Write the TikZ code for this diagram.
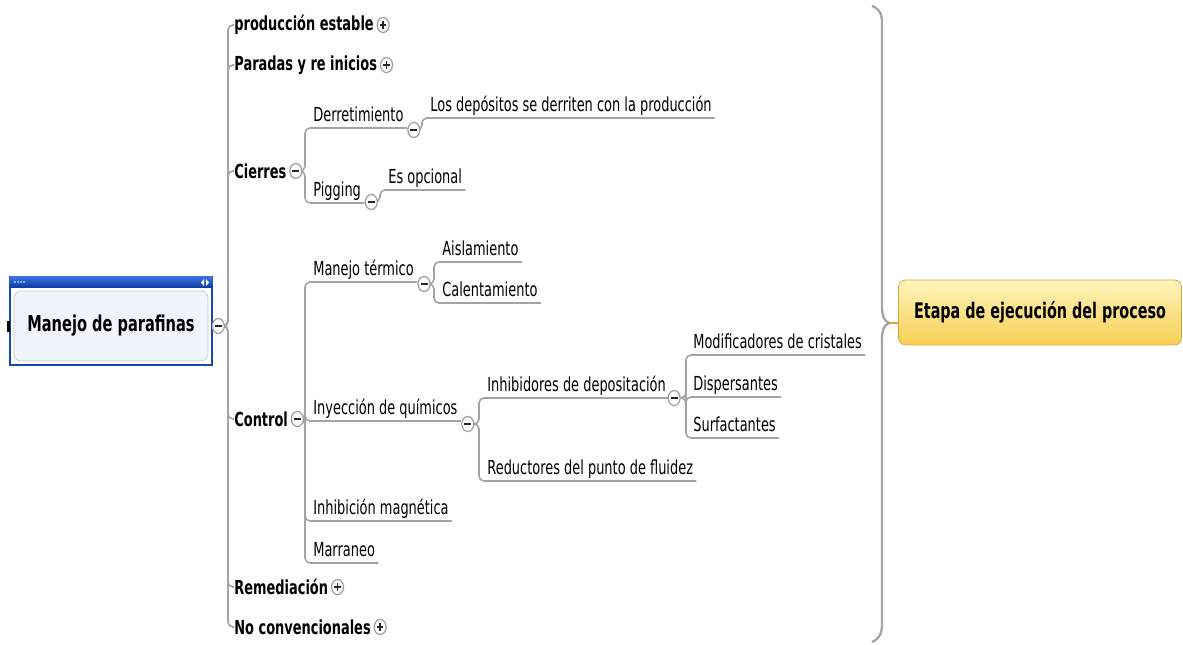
\documentclass[tikz,border=0pt]{standalone}
\usepackage{fontspec}
\setmainfont{DejaVu Sans}[FakeStretch=0.67]
\usetikzlibrary{shapes.geometric, positioning, calc, backgrounds}

\definecolor{branchgray}{HTML}{A4A4A4}
\definecolor{rootblue}{HTML}{1448B8}
\definecolor{barlight}{HTML}{3C72E4}
\definecolor{bardark}{HTML}{0B3AA2}
\definecolor{innerfill}{HTML}{F0F4FC}
\definecolor{innerline}{HTML}{C4C8D0}
\definecolor{goldtop}{HTML}{FFF4BE}
\definecolor{goldbottom}{HTML}{F6D052}
\definecolor{goldline}{HTML}{D2A53A}

\tikzset{
  branch/.style={draw=branchgray, line width=0.9pt, rounded corners=0.1cm},
  btn/.style={ellipse, draw=gray!75, fill=white, line width=0.7pt, minimum width=0.24cm, minimum height=0.3cm, inner sep=0},
  minusbtn/.style={btn, path picture={\draw[line width=1.6pt, black!85] ([xshift=-0.07cm]path picture bounding box.center) -- ([xshift=0.07cm]path picture bounding box.center);}},
  plusbtn/.style={btn, path picture={
    \draw[line width=0.9pt, black!85] ([xshift=-0.065cm]path picture bounding box.center) -- ([xshift=0.065cm]path picture bounding box.center);
    \draw[line width=0.9pt, black!85] ([yshift=-0.075cm]path picture bounding box.center) -- ([yshift=0.075cm]path picture bounding box.center);}},
  topic/.style={anchor=south west, inner xsep=0, inner ysep=0.03cm, text depth=0.25em, text height=0.75em, font=\fontsize{11}{13}\selectfont},
  maintopic/.style={anchor=west, inner sep=0, font=\fontsize{11}{13}\selectfont\bfseries},
  rootbox/.style={rectangle, rounded corners=0.14cm, draw=innerline, fill=innerfill, minimum width=3.88cm, minimum height=1.4cm, font=\fontsize{12.4}{15}\selectfont\bfseries},
  etapabox/.style={rectangle, rounded corners=0.14cm, draw=goldline, top color=goldtop, bottom color=goldbottom, minimum width=5.66cm, minimum height=1.3cm, font=\fontsize{12.2}{14}\selectfont\bfseries}
}

\begin{document}
\begin{tikzpicture}[x=0.02cm, y=-0.02cm]
\useasboundingbox (0,0) rectangle (1183,645);

% central topic
\node[rootbox] (root) at (111,326) {Manejo de parafinas};
\begin{scope}[on background layer]
  \filldraw[draw=rootblue, line width=1pt, fill=white] ([shift={(-0.08cm,0.28cm)}]root.north west) rectangle ([shift={(0.08cm,-0.08cm)}]root.south east);
  \shade[top color=barlight, bottom color=bardark] ([shift={(-0.08cm,0.28cm)}]root.north west) rectangle ([shift={(0.08cm,0.06cm)}]root.north east);
\end{scope}
\foreach \i in {0,...,3}
  \fill[white] (15+3*\i,282) circle (0.8);
\fill[white] (204,279) -- (201,282.5) -- (204,286) -- cycle;
\fill[white] (206,279) -- (209,282.5) -- (206,286) -- cycle;
\fill (7,321) rectangle (10,332);
\node[minusbtn] (rootbtn) at ([xshift=0.2cm]root.east) {};

% main topics
\node[maintopic] (prod) at (234,25) {producción estable};
\node[maintopic] (parad) at (234,65) {Paradas y re inicios};
\node[maintopic] (cierres) at (234,171) {Cierres};
\node[maintopic] (control) at (234,419) {Control};
\node[maintopic] (remed) at (234,587) {Remediación};
\node[maintopic] (noconv) at (234,627) {No convencionales};

% Cierres
\node[topic] (derr) at (313,128) {Derretimiento};
\node[topic] (pigg) at (313,203) {Pigging};
\node[topic] (depos) at (430,118) {Los depósitos se derriten con la producción};
\node[topic] (opc) at (388,190) {Es opcional};

% Control
\node[topic] (mterm) at (313,282) {Manejo térmico};
\node[topic] (iny) at (313,421) {Inyección de químicos};
\node[topic] (imag) at (313,521) {Inhibición magnética};
\node[topic] (marr) at (313,563) {Marraneo};
\node[topic] (aisl) at (442,262) {Aislamiento};
\node[topic] (calen) at (442,303) {Calentamiento};
\node[topic] (inh) at (487,398) {Inhibidores de depositación};
\node[topic] (red) at (487,481) {Reductores del punto de fluidez};
\node[topic] (mod) at (693,355) {Modificadores de cristales};
\node[topic] (disp) at (693,397) {Dispersantes};
\node[topic] (surf) at (693,438) {Surfactantes};

% collapse buttons
\node[plusbtn, right=0.05cm of prod] (prodbtn) {};
\node[plusbtn, right=0.05cm of parad] (paradbtn) {};
\node[minusbtn, right=0.05cm of cierres] (cierresbtn) {};
\node[minusbtn, right=0.05cm of control] (controlbtn) {};
\node[plusbtn, right=0.05cm of remed] (remedbtn) {};
\node[plusbtn, right=0.05cm of noconv] (noconvbtn) {};
\node[minusbtn] (derrbtn) at ([shift={(0.2cm,-0.04cm)}]derr.south east) {};
\node[minusbtn] (piggbtn) at ([shift={(0.2cm,0.02cm)}]pigg.south east) {};
\node[minusbtn] (mtermbtn) at ([shift={(0.2cm,-0.04cm)}]mterm.south east) {};
\node[minusbtn] (inybtn) at ([shift={(0.2cm,-0.06cm)}]iny.south east) {};
\node[minusbtn] (inhbtn) at ([shift={(0.16cm,0cm)}]inh.south east) {};

% branch bars
\coordinate (mainbar) at (228,0);
\coordinate (cbar) at (305,0);
\coordinate (dbar) at (422,0);
\coordinate (pbar) at (380,0);
\coordinate (mbar) at (434,0);
\coordinate (ibar) at (479,0);
\coordinate (hbar) at (686,0);

\begin{scope}[on background layer]
\foreach \c in {prod,parad,cierres,control,remed,noconv}
  \draw[branch] (rootbtn.east) -- (rootbtn.east -| mainbar) |- (\c.west);
\foreach \c in {derr,pigg}
  \draw[branch] (cierresbtn.east) -- (cierresbtn.east -| cbar) |- ([xshift=0.06cm]\c.south east);
\draw[branch] (derrbtn.east) -- (derrbtn.east -| dbar) |- ([xshift=0.06cm]depos.south east);
\draw[branch] (piggbtn.east) -- (piggbtn.east -| pbar) |- ([xshift=0.06cm]opc.south east);
\foreach \c in {mterm,iny,imag,marr}
  \draw[branch] (controlbtn.east) -- (controlbtn.east -| cbar) |- ([xshift=0.06cm]\c.south east);
\foreach \c in {aisl,calen}
  \draw[branch] (mtermbtn.east) -- (mtermbtn.east -| mbar) |- ([xshift=0.06cm]\c.south east);
\foreach \c in {inh,red}
  \draw[branch] (inybtn.east) -- (inybtn.east -| ibar) |- ([xshift=0.06cm]\c.south east);
\foreach \c in {mod,disp,surf}
  \draw[branch] (inhbtn.east) -- (inhbtn.east -| hbar) |- ([xshift=0.06cm]\c.south east);
\end{scope}

% summary brace
\node[etapabox] (etapa) at (1040,312.5) {Etapa de ejecución del proceso};
\coordinate (bracetip) at (889,323);
\draw[draw=branchgray, line width=1.3pt] (872,6) .. controls (880,9) and (882,14) .. (882,24) -- (882,306)
  .. controls (882,316) and (884,321) .. (bracetip) .. controls (884,325) and (882,330) .. (882,340)
  -- (882,624) .. controls (882,634) and (879,639) .. (872,642);
\draw[draw=goldline, line width=1.3pt] (bracetip) -- (bracetip -| etapa.west);

\end{tikzpicture}
\end{document}
